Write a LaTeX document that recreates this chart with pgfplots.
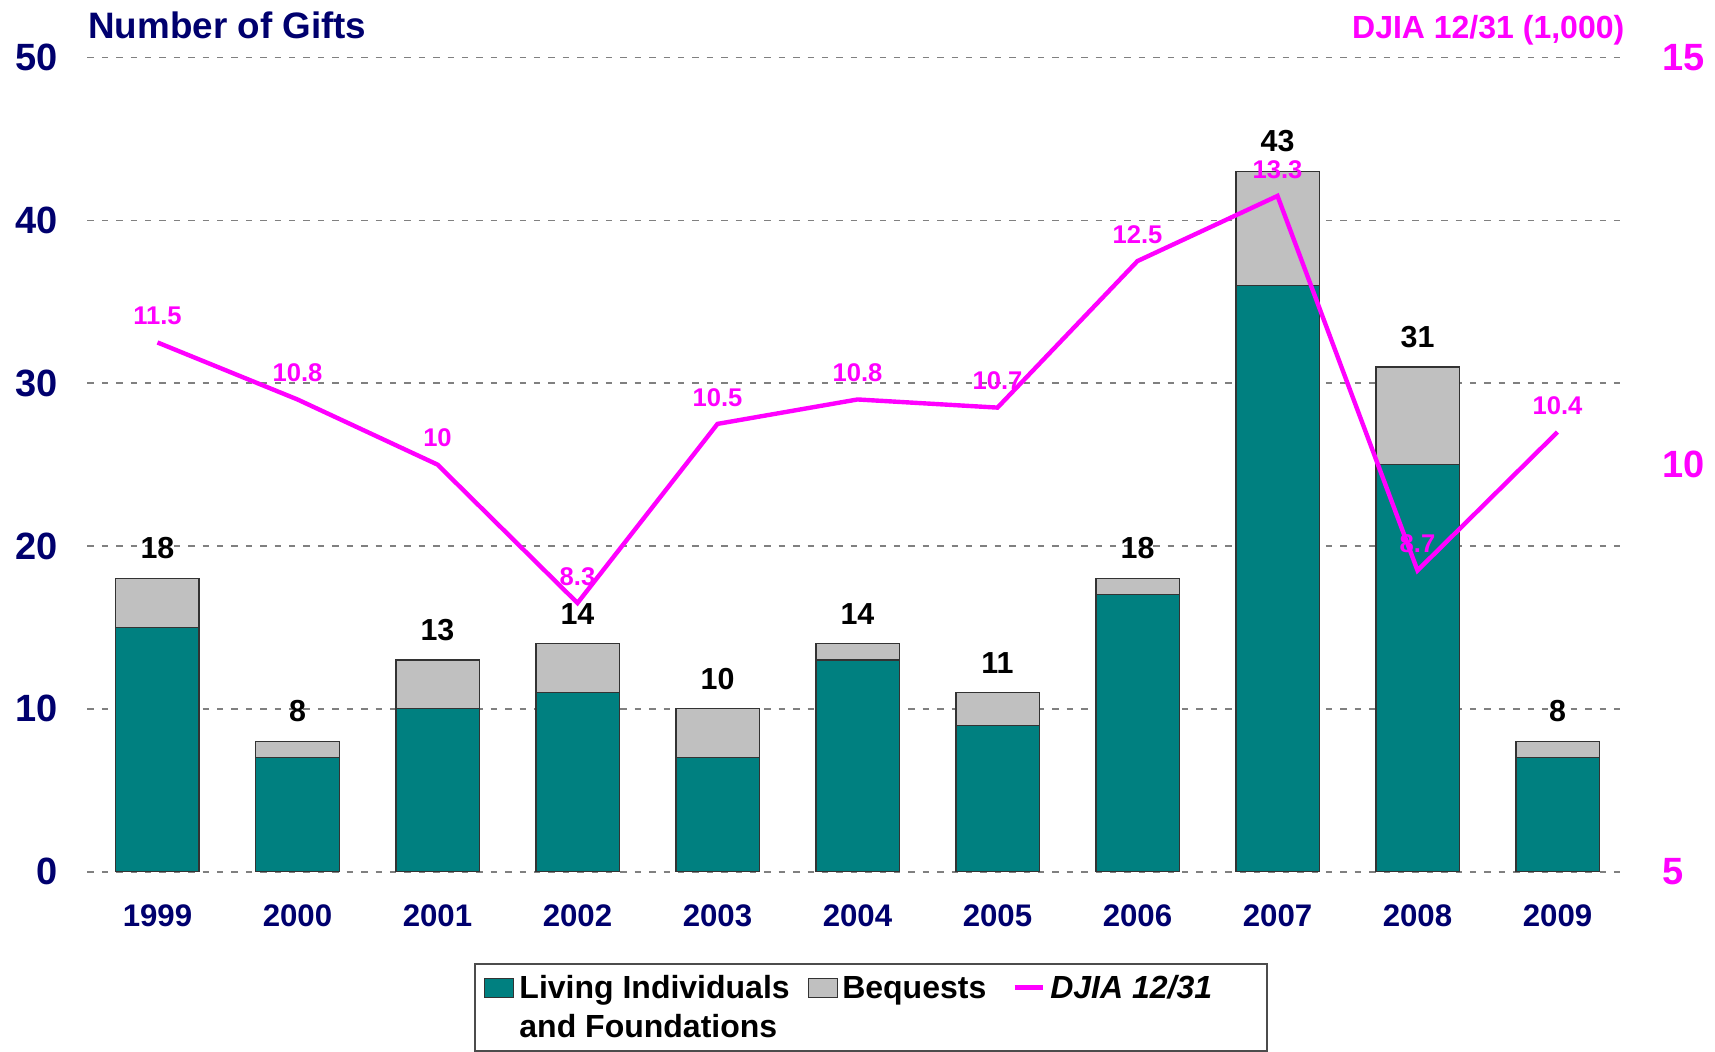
\documentclass[border=0pt]{standalone}
\usepackage{pgfplots}
\pgfplotsset{compat=1.18}
\usepackage{fontspec}
\setmainfont{Liberation Sans}
\definecolor{navy}{RGB}{0,0,110}
\definecolor{tealbar}{RGB}{0,128,128}
\definecolor{graybar}{RGB}{192,192,192}
\definecolor{djia}{RGB}{255,0,255}
\pgfplotsset{base/.style={
  at={(0,0)}, anchor=south west, scale only axis,
  width=385pt, height=203.55pt,
  xmin=-0.5, xmax=10.5,
  axis line style={draw=none}, major tick length=0pt,
  /pgf/number format/assume math mode=true,
  clip=false}}
\begin{document}
\begin{tikzpicture}
\path[use as bounding box] (-21.875pt,-44.825pt) rectangle (406.875pt,217.925pt);
\begin{axis}[base,
  ymin=0, ymax=50,
  xtick={0,...,10},
  xticklabels={1999,2000,2001,2002,2003,2004,2005,2006,2007,2008,2009},
  ytick={0,10,...,50},
  ybar stacked, bar width=20.8pt,
  ymajorgrids, grid style={dash pattern=on 1.6pt off 2pt, line width=0.4pt, color=black!50},
  yticklabel style={font=\fontsize{9.5}{10}\selectfont\bfseries, text=navy, xshift=-4.0pt},
  xticklabel style={font=\fontsize{7.8}{9}\selectfont\bfseries, text=navy, yshift=-4.8pt},
]
\addplot[fill=tealbar, draw=black!80, line width=0.3pt] coordinates {
  (0,15) (1,7) (2,10) (3,11) (4,7) (5,13) (6,9) (7,17) (8,36) (9,25) (10,7)};
\addplot[fill=graybar, draw=black!80, line width=0.3pt] coordinates {
  (0,3) (1,1) (2,3) (3,3) (4,3) (5,1) (6,2) (7,1) (8,7) (9,6) (10,1)};
\node[anchor=base west, inner sep=0pt, font=\fontsize{9.2}{10}\selectfont\bfseries, text=navy] at (rel axis cs:0,1) [yshift=4.8pt] {Number of Gifts};
\node[anchor=base east, inner sep=0pt, font=\fontsize{8}{10}\selectfont\bfseries, text=djia] at (rel axis cs:1,1) [yshift=4.8pt, xshift=-0.6pt] {DJIA 12/31 (1,000)};
\end{axis}
% totals above the bars
\begin{axis}[base, ymin=0, ymax=50, xtick=\empty, ytick=\empty]
\addplot[draw=none, mark=none,
  nodes near coords, point meta=explicit symbolic,
  every node near coord/.append style={font=\fontsize{7.6}{9}\selectfont\bfseries, text=black, anchor=south, yshift=1.3pt}]
  coordinates {
  (0,18) [18] (1,8) [8] (2,13) [13] (3,14) [14] (4,10) [10] (5,14) [14]
  (6,11) [11] (7,18) [18] (8,43) [43] (9,31) [31] (10,8) [8]};
\end{axis}
\begin{axis}[base,
  ymin=5, ymax=15,
  xtick=\empty, ytick={5,10,15},
  yticklabel pos=right,
  yticklabel style={font=\fontsize{9.5}{10}\selectfont\bfseries, text=djia, xshift=5.2pt},
  legend columns=3,
  legend style={at={(axis description cs:0.251,0)}, anchor=north west, yshift=-22.8pt,
    draw=black!70, line width=0.4pt,
    font=\fontsize{8}{9.75}\selectfont\bfseries,
    inner xsep=2.2pt, inner ysep=1.125pt,
    column sep=0pt, row sep=0pt,
    nodes={inner sep=0pt, text height=7.6pt, text depth=2.15pt},
    cells={anchor=base west}},
]
\addlegendimage{legend image code/.code={\draw[fill=tealbar,draw=black!80,line width=0.3pt] (0pt,0.25pt) rectangle (7.3pt,5pt); \path (8.6pt,0pt);}}
\addlegendentry{Living Individuals\hspace*{4.5pt}}
\addlegendimage{legend image code/.code={\draw[fill=graybar,draw=black!80,line width=0.3pt] (0pt,0.25pt) rectangle (7.3pt,5pt); \path (8.3pt,0pt);}}
\addlegendentry{Bequests\hspace*{6.5pt}}
\addplot[djia, line width=1.1pt, mark=none,
  legend image code/.code={\draw[djia,line width=1.1pt] (0pt,2.8pt) -- (7.2pt,2.8pt); \path (8.4pt,0pt);},
  nodes near coords, point meta=explicit symbolic,
  every node near coord/.append style={font=\fontsize{6.4}{8}\selectfont\bfseries, text=djia, anchor=south, yshift=0.5pt}]
  coordinates {
  (0,11.5) [11.5] (1,10.8) [10.8] (2,10) [10] (3,8.3) [8.3] (4,10.5) [10.5]
  (5,10.8) [10.8] (6,10.7) [10.7] (7,12.5) [12.5] (8,13.3) [13.3] (9,8.7) [8.7] (10,10.4) [10.4]};
\addlegendentry{\textit{DJIA 12/31}\hspace*{11.5pt}}
\addlegendimage{legend image code/.code={\path (8.6pt,0pt);}}
\addlegendentry{and Foundations}
\end{axis}
\end{tikzpicture}
\end{document}
